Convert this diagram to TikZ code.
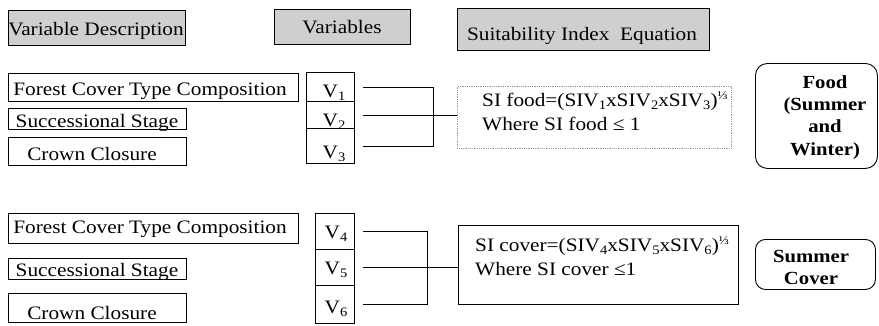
\documentclass[tikz,border=0pt]{standalone}
\usepackage{fontspec}
\setmainfont{Liberation Serif}[FakeStretch=1.12]
\newcommand{\sbs}[1]{\raisebox{-0.35ex}{\fontsize{13}{13}\selectfont #1}}
\newcommand{\third}{\raisebox{0.8ex}{\fontsize{12}{12}\selectfont ⅓}}
\begin{document}
\begin{tikzpicture}[x=1pt,y=-1pt,
  box/.style={draw, line width=0.9pt, inner sep=0pt, anchor=north west},
  hdr/.style={box, fill=gray!38},
  txt/.style={inner sep=0pt, anchor=base, font=\fontsize{19}{21}\selectfont},
  ltxt/.style={inner sep=0pt, anchor=base west, font=\fontsize{19}{21}\selectfont},
  btxt/.style={inner sep=0pt, anchor=base, font=\fontsize{18.5}{21}\selectfont\bfseries},
  conn/.style={line width=0.9pt}]
\useasboundingbox (0,0) rectangle (879,325);
% headers
\node[hdr, minimum width=177pt, minimum height=35pt] (hd1) at (8,10) {};
\node[txt] (thd1) at (96,35) {Variable Description};
\node[hdr, minimum width=136pt, minimum height=35pt] (hd2) at (274,9) {};
\node[txt] (thd2) at (342,33) {Variables};
\node[hdr, minimum width=252pt, minimum height=42pt] (hd3) at (457,8) {};
\node[txt] (thd3) at (582,40) {Suitability Index\ \ Equation};
% group 1 descriptions
\node[box, minimum width=290pt, minimum height=28pt] (f1) at (8,73) {};
\node[txt] (tf1) at (150,95) {Forest Cover Type Composition};
\node[box, minimum width=178pt, minimum height=21pt] (s1) at (8,108) {};
\node[txt] (ts1) at (97,127) {Successional Stage};
\node[box, minimum width=178pt, minimum height=28pt] (c1) at (8,137) {};
\node[txt] (tc1) at (92,160) {Crown Closure};
% group 1 variables
\node[box, minimum width=48pt, minimum height=29pt] (v1) at (306,72) {};
\node[box, minimum width=48pt, minimum height=27pt] (v2) at (306,101) {};
\node[box, minimum width=48pt, minimum height=35pt] (v3) at (306,128) {};
\node[txt] (tv1) at (334,97) {V\sbs{1}};
\node[txt] (tv2) at (334,126) {V\sbs{2}};
\node[txt] (tv3) at (334,158) {V\sbs{3}};
% group 1 equation
\node[box, draw=gray!80, line width=0.7pt, dash pattern=on 1pt off 0.8pt, minimum width=274pt, minimum height=62pt] (eq1) at (457,86) {};
\node[ltxt] (te1a) at (482,106) {SI food=(SIV\sbs{1}xSIV\sbs{2}xSIV\sbs{3})\third};
\node[ltxt] (te1b) at (482,130) {Where SI food ≤ 1};
% food box
\node[box, rounded corners=12pt, minimum width=122pt, minimum height=105pt] (food) at (755,63) {};
\node[btxt] (tfa) at (825,88) {Food};
\node[btxt] (tfb) at (825,110) {(Summer};
\node[btxt] (tfc) at (825,132) {and};
\node[btxt] (tfd) at (825,155) {Winter)};
% group 1 connectors
\coordinate (j1) at (433,0);
\draw[conn] ([xshift=8pt]v1.east) -| (j1 |- v3.east) -- ([xshift=8pt]v3.east);
\draw[conn] ([xshift=8pt]v2.east) -- (eq1.west |- v2.east);
% group 2 descriptions
\node[box, minimum width=290pt, minimum height=30pt] (f2) at (8,213) {};
\node[txt] (tf2) at (150,233) {Forest Cover Type Composition};
\node[box, minimum width=178pt, minimum height=21pt] (s2) at (8,258) {};
\node[txt] (ts2) at (97,276) {Successional Stage};
\node[box, minimum width=178pt, minimum height=29pt] (c2) at (8,293) {};
\node[txt] (tc2) at (92,319) {Crown Closure};
% group 2 variables
\node[box, minimum width=39pt, minimum height=36pt] (v4) at (315,213) {};
\node[box, minimum width=39pt, minimum height=36pt] (v5) at (315,249) {};
\node[box, minimum width=39pt, minimum height=38pt] (v6) at (315,285) {};
\node[txt] (tv4) at (336,238) {V\sbs{4}};
\node[txt] (tv5) at (336,274) {V\sbs{5}};
\node[txt] (tv6) at (336,313) {V\sbs{6}};
% group 2 equation
\node[box, minimum width=280pt, minimum height=79pt] (eq2) at (458,225) {};
\node[ltxt] (te2a) at (475,251) {SI cover=(SIV\sbs{4}xSIV\sbs{5}xSIV\sbs{6})\third};
\node[ltxt] (te2b) at (475,275) {Where SI cover ≤1};
% summer cover box
\node[box, rounded corners=10pt, minimum width=120pt, minimum height=50pt] (cov) at (755,239) {};
\node[btxt] (tca) at (811,262) {Summer};
\node[btxt] (tcb) at (811,284) {Cover};
% group 2 connectors
\coordinate (j2) at (427,0);
\draw[conn] ([xshift=8pt]v4.east) -| (j2 |- v6.east) -- ([xshift=8pt]v6.east);
\draw[conn] ([xshift=8pt]v5.east) -- (eq2.west |- v5.east);
\end{tikzpicture}
\end{document}
